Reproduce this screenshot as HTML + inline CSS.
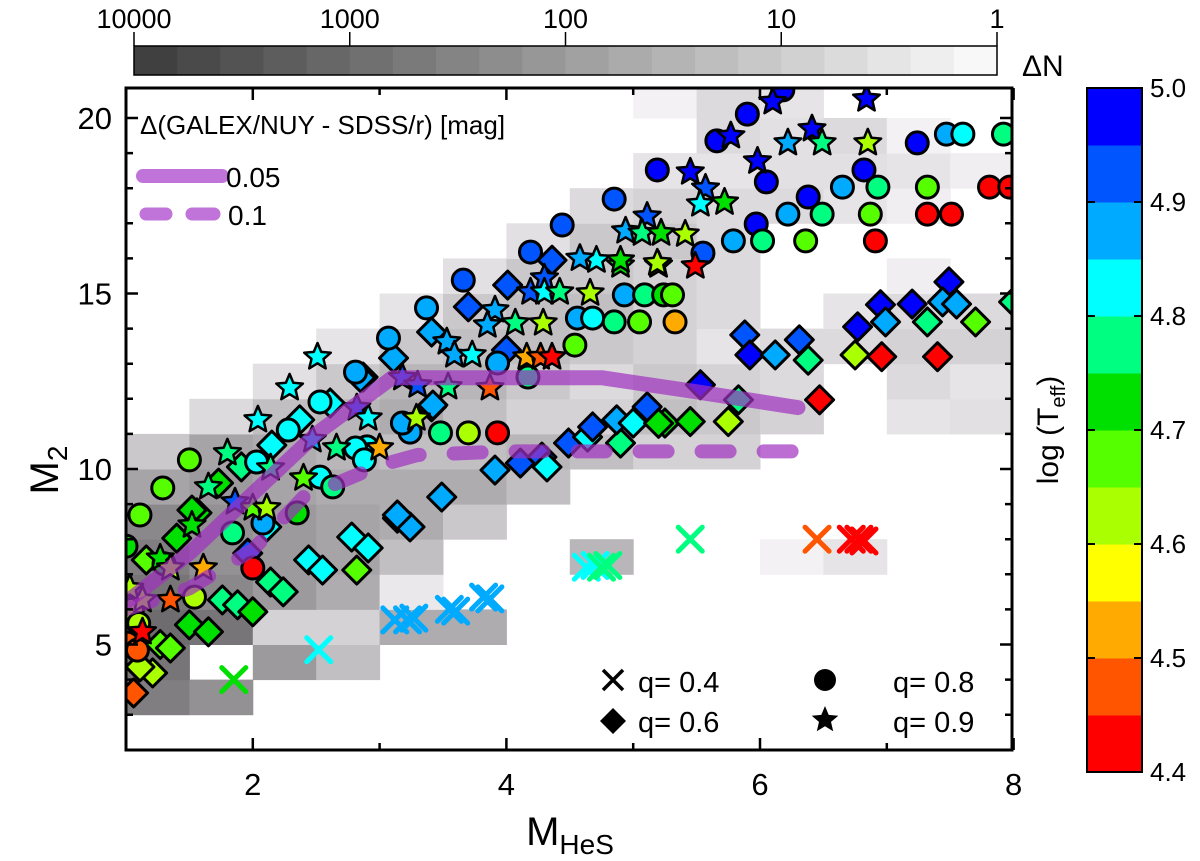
<!DOCTYPE html>
<html><head><meta charset="utf-8"><style>
body{margin:0;background:#fff;}
svg{display:block;font-family:"Liberation Sans",Arial,sans-serif;}
</style></head><body>
<svg id="c" width="1200" height="861" viewBox="0 0 1200 861" xmlns="http://www.w3.org/2000/svg">
<defs><clipPath id="pc"><rect x="126" y="88" width="886" height="662"/></clipPath></defs>
<g id="heat" clip-path="url(#pc)"></g>
<g id="marks" clip-path="url(#pc)"></g>
<g id="lines" clip-path="url(#pc)"></g>
<g id="axes"></g>
<g id="topbar"></g>
<g id="rightbar"></g>
<g id="legend"></g>
</svg>
<script>
// ---- data ----
// heatmap cells: [x0, M2 row start, count]
const heatCells=[[1,3,400],[1.5,3,160],[1,4,630],[2,4,100],[2.5,4,16],[1,5,1000],[1.5,5,630],[2,5,6],[2.5,5,6],[3,5,40],[3.5,5,40],
[1,6,630],[1.5,6,250],[2,6,100],[2.5,6,40],[3,6,2],[1,7,400],[1.5,7,160],[2,7,100],[2.5,7,60],[3,7,16],[4.5,7,25],[6,7,1.3],[6.5,7,2.5],
[1,8,250],[1.5,8,160],[2,8,100],[2.5,8,60],[3,8,40],[3.5,8,10],[1,9,60],[1.5,9,100],[2,9,60],[2.5,9,40],[3,9,40],[3.5,9,40],[4,9,16],
[1,10,10],[1.5,10,60],[2,10,40],[2.5,10,25],[3,10,16],[3.5,10,16],[4,10,25],[4.5,10,16],[5,10,6],[5.5,10,6],
[1.5,11,4],[2,11,16],[2.5,11,25],[3,11,40],[3.5,11,16],[4,11,6],[4.5,11,6],[5,11,16],[5.5,11,10],[6,11,6],[7,11,2.5],[7.5,11,3],
[2,12,3],[2.5,12,10],[3,12,25],[3.5,12,25],[4,12,10],[4.5,12,4],[5,12,10],[5.5,12,6],[6,12,4],[7,12,4],[7.5,12,2.5],
[2.5,13,2.5],[3,13,10],[3.5,13,16],[4,13,16],[4.5,13,10],[5,13,6],[5.5,13,2.5],[6,13,4],[6.5,13,4],[7,13,6],[7.5,13,6],
[3,14,2.5],[3.5,14,10],[4,14,16],[4.5,14,16],[5,14,6],[5.5,14,4],[6.5,14,2.5],[7,14,4],[7.5,14,4],
[3.5,15,3],[4,15,10],[4.5,15,10],[5,15,6],[5.5,15,4],[7,15,1.5],[4,16,3],[4.5,16,10],[5,16,10],[5.5,16,4],
[4.5,17,4],[5,17,6],[5.5,17,4],[6,17,4],[6.5,17,2.5],[7,17,1.5],[5,18,2.5],[5.5,18,2.5],[6,18,3],[6.5,18,3],[7,18,2.5],[7.5,18,1.5],
[5.5,19,4],[6,19,3],[6.5,19,4],[7,19,1.3],[5,20,1.3],[5.5,20,4],[6,20,2.5]];
// q=0.8 circles: [M_HeS, M2, logTeff]
const circles=[[5.90,20.11,4.97],[6.18,20.8,4.97],[5.66,19.35,4.97],[5.19,18.52,4.97],[4.85,17.69,4.92],[6.05,18.18,4.97],[6.82,18.52,4.97],
[7.24,19.29,4.97],[7.47,19.54,4.87],[7.60,19.54,4.82],[7.92,19.54,4.78],[6.65,18.03,4.87],[6.93,18.03,4.78],[7.32,18.03,4.67],[7.81,18.03,4.42],[7.97,18.03,4.42],
[6.38,17.75,4.97],[6.22,17.26,4.87],[6.49,17.26,4.78],[6.87,17.26,4.67],[7.32,17.26,4.42],[7.51,17.26,4.42],[5.97,16.98,4.97],[5.79,16.50,4.87],[6.02,16.50,4.78],
[6.36,16.50,4.67],[6.91,16.50,4.42],[5.55,16.15,4.92],[4.93,14.96,4.87],[5.09,14.96,4.78],[5.24,14.96,4.72],[5.31,14.96,4.67],[4.85,14.19,4.78],[5.05,14.19,4.67],[5.33,14.19,4.52],
[4.44,16.95,4.92],[4.19,16.18,4.92],[3.66,15.38,4.92],[3.37,14.59,4.87],[3.07,13.73,4.87],[3.93,13.02,4.87],[4.17,12.62,4.78],[4.54,13.53,4.67],[4.56,14.30,4.87],[4.68,14.30,4.82],
[3.48,11.03,4.78],[3.70,11.03,4.62],[3.93,11.03,4.42],[3.24,11.05,4.87],[2.90,10.63,4.82],[2.81,12.76,4.87],[2.53,11.91,4.82],[2.28,11.11,4.82],[2.03,10.2,4.82],[2.81,10.6,4.82],[2.88,10.26,4.82],
[3.18,11.31,4.87],[1.50,10.26,4.67],[1.29,9.46,4.67],[1.11,8.69,4.67],[2.53,9.77,4.82],[2.63,9.49,4.78],[2.35,8.75,4.72],[1.84,8.18,4.78],[2.0,7.18,4.42],[1.54,6.35,4.62],
[1.01,5.04,4.47],[1.09,4.84,4.47],[2.08,8.46,4.87],[1.05,6.0,4.62],[1.1,5.6,4.62],[1.3,7.3,4.72],[1.0,7.8,4.72]];
// q=0.9 stars
const stars=[[6.10,20.46,4.97],[6.84,20.54,4.97],[5.77,19.49,4.97],[6.22,19.29,4.87],[6.41,19.69,4.97],[6.49,19.29,4.78],[6.85,19.29,4.62],[5.98,18.77,4.97],[5.45,18.46,4.97],
[5.57,18.0,4.92],[5.53,17.55,4.82],[5.72,17.6,4.72],[5.11,17.2,4.92],[4.94,16.78,4.87],[5.07,16.72,4.78],[5.22,16.72,4.72],[5.41,16.69,4.62],[4.90,15.81,4.72],[5.20,15.81,4.62],[5.49,15.78,4.42],
[4.71,15.95,4.82],[4.58,16.0,4.87],[4.90,15.95,4.72],[5.19,15.87,4.62],[4.30,15.44,4.92],[4.19,15.04,4.92],[4.30,15.04,4.82],[4.42,15.04,4.78],[4.66,15.01,4.62],[3.91,14.53,4.87],
[3.85,14.1,4.87],[4.07,14.16,4.78],[4.29,14.16,4.62],[3.53,13.62,4.87],[3.59,13.25,4.87],[3.73,13.25,4.82],[4.16,13.19,4.52],[4.27,13.19,4.47],[4.36,13.19,4.42],[3.18,12.6,4.92],
[3.30,12.39,4.92],[3.54,12.34,4.78],[3.87,12.31,4.47],[3.29,11.45,4.62],[3.0,10.6,4.52],[2.51,13.19,4.82],[2.29,12.31,4.82],[2.04,11.4,4.82],[1.80,10.46,4.78],[1.65,9.49,4.78],
[2.14,10.03,4.78],[2.47,10.83,4.87],[2.66,10.6,4.78],[2.82,11.74,4.92],[2.91,11.45,4.82],[2.40,9.74,4.67],[2.0,8.89,4.67],[2.11,8.89,4.62],[1.86,9.06,4.92],[1.52,8.4,4.72],
[1.27,7.46,4.72],[1.61,7.18,4.52],[1.35,7.18,4.62],[1.13,6.27,4.62],[1.35,6.27,4.47],[1.13,5.36,4.42],[1.03,6.6,4.62]];
// q=0.6 diamonds
const diamonds=[[1.06,3.62,4.47],[1.21,4.19,4.62],[1.11,4.36,4.62],[1.27,5.0,4.67],[1.35,4.9,4.67],[1.50,5.56,4.72],[1.65,5.36,4.72],[1.76,6.27,4.78],[1.88,6.13,4.78],[2.0,5.93,4.72],
[2.14,6.78,4.78],[2.24,6.5,4.78],[2.44,7.41,4.82],[2.55,7.12,4.82],[2.78,8.06,4.82],[2.91,7.75,4.82],[2.82,7.12,4.67],[3.14,8.6,4.87],[3.24,8.35,4.87],[2.11,8.35,4.82],
[1.96,7.6,4.92],[1.40,8.03,4.72],[1.16,7.41,4.67],[1.56,8.75,4.72],[3.91,9.97,4.87],[4.11,10.17,4.92],[4.28,10.34,4.92],[4.32,10.06,4.82],[4.49,10.74,4.92],[4.64,10.91,4.82],
[4.68,11.2,4.92],[4.90,10.74,4.78],[4.87,11.4,4.87],[5.0,11.31,4.82],[5.11,11.77,4.92],[5.25,11.31,4.72],[3.41,11.77,4.87],[3.70,14.62,4.92],[3.41,13.9,4.87],[4.01,15.24,4.92],
[4.36,15.95,4.92],[4.0,13.39,4.92],[3.11,13.16,4.87],[2.87,12.62,4.87],[2.85,12.6,4.87],[2.61,11.88,4.82],[2.37,11.4,4.82],[2.15,10.68,4.82],[1.91,10.06,4.78],[1.73,9.6,4.72],
[1.52,8.83,4.72],[3.42,11.82,4.87],[3.14,8.69,4.87],[3.49,9.2,4.87],[5.88,13.82,4.92],[5.92,13.25,4.97],[6.12,13.25,4.87],[6.31,13.68,4.92],[6.38,13.1,4.78],[6.47,11.97,4.42],
[6.95,14.68,4.97],[7.49,15.33,4.97],[7.20,14.7,4.97],[7.44,14.76,4.87],[7.55,14.7,4.87],[7.32,14.19,4.78],[7.70,14.19,4.67],[6.77,14.05,4.97],[6.99,14.19,4.87],[8.0,14.76,4.78],
[6.75,13.25,4.62],[6.96,13.2,4.42],[7.40,13.2,4.42],[5.45,11.35,4.72],[5.75,11.35,4.62],[5.83,11.97,4.78],[5.53,12.4,4.97],[5.2,11.3,4.72]];
// q=0.4 crosses
const crosses=[[1.85,4.0,4.72],[2.52,4.85,4.82],[3.12,5.7,4.87],[3.22,5.7,4.87],[3.27,5.75,4.87],[3.55,6.0,4.87],[3.6,5.95,4.87],[3.82,6.35,4.87],[3.87,6.3,4.87],
[4.63,7.2,4.82],[4.7,7.25,4.82],[4.75,7.2,4.78],[4.8,7.25,4.78],[5.45,8.0,4.78],[6.45,8.0,4.47],[6.72,8.0,4.42],[6.78,8.0,4.42],[6.82,7.95,4.42]];
const line005X=[1.0,1.5,2.0,2.5,3.1,3.4,4.0,4.75,5.5,6.3];
const line005Y=[6.2,7.6,9.3,11.0,12.6,12.6,12.6,12.6,12.2,11.75];
const line01X=[1.0,1.5,2.0,2.4,3.0,3.3,4.0,6.3];
const line01Y=[6.0,6.6,7.7,9.2,10.1,10.4,10.5,10.5];
const xTicks=[2,4,6,8];
const yTicks=[5,10,15,20];
const countTicks=["10000","1000","100","10","1"];
const teffTicks=["5.0","4.9","4.8","4.7","4.6","4.5","4.4"];
// ---- scales ----
const X=v=>126+(v-1)*126.8, Y=v=>118+(20-v)*35.1;
const NS="http://www.w3.org/2000/svg";
function mk(p,t,a){const e=document.createElementNS(NS,t);for(const k in a)e.setAttribute(k,a[k]);p.appendChild(e);return e;}
const jet=["#ff0000","#ff5500","#ffaa00","#ffff00","#aaff00","#55ff00","#00e000","#00ff80","#00ffff","#00aaff","#0055ff","#0000ff"];
const col=t=>jet[Math.max(0,Math.min(11,Math.floor((t-4.4)/0.05)))];
const gray=c=>{const l=Math.log10(c)/4;const v=Math.round(248-(248-64)*l);return `rgb(${v},${v-2},${v})`;};
const heat=document.getElementById('heat');
heatCells.forEach(c=>{const r=mk(heat,'rect',{x:X(c[0]),y:Y(c[1]+1),width:X(c[0]+0.5)-X(c[0])+0.5,height:Y(c[1])-Y(c[1]+1)+0.5,fill:gray(c[2])});

});
const marks=document.getElementById('marks');
function starPts(cx,cy,R){let s=[];for(let i=0;i<10;i++){const r=i%2?R*0.45:R;const a=-Math.PI/2+i*Math.PI/5;s.push((cx+r*Math.cos(a)).toFixed(1)+","+(cy+r*Math.sin(a)).toFixed(1));}return s.join(" ");}
diamonds.forEach(d=>{const x=X(d[0]),y=Y(d[1]);const e=mk(marks,'polygon',{points:`${x},${y-14} ${x+14},${y} ${x},${y+14} ${x-14},${y}`,fill:col(d[2]),stroke:'#000','stroke-width':3,'stroke-linejoin':'round'});

});
circles.forEach(d=>{const e=mk(marks,'circle',{cx:X(d[0]),cy:Y(d[1]),r:11,fill:col(d[2]),stroke:'#000','stroke-width':3});

});
stars.forEach(d=>{const e=mk(marks,'polygon',{points:starPts(X(d[0]),Y(d[1]),14),fill:col(d[2]),stroke:'#000','stroke-width':2.5,'stroke-linejoin':'round'});

});
crosses.forEach(d=>{const x=X(d[0]),y=Y(d[1]);const e=mk(marks,'path',{d:`M${x-12},${y-12}L${x+12},${y+12}M${x+12},${y-12}L${x-12},${y+12}`,stroke:col(d[2]),'stroke-width':5,'stroke-linecap':'round',fill:'none'});

});
const lines=document.getElementById('lines');
const pth=(xs,ys)=>xs.map((v,i)=>(i?'L':'M')+X(v).toFixed(1)+','+Y(ys[i]).toFixed(1)).join('');
const l1=mk(lines,'path',{d:pth(line005X,line005Y),stroke:'#a030c0','stroke-opacity':0.7,'stroke-width':15,fill:'none','stroke-linecap':'round','stroke-linejoin':'round'});


const l2=mk(lines,'path',{d:pth(line01X,line01Y),stroke:'#a030c0','stroke-opacity':0.7,'stroke-width':14,fill:'none','stroke-linecap':'round','stroke-dasharray':'28 34'});


// axes
const ax=document.getElementById('axes');
mk(ax,'rect',{x:126,y:88,width:886,height:662,fill:'none',stroke:'#000','stroke-width':3});
for(let v=1;v<=8;v++){const maj=v%2==0,L=maj?12:7;mk(ax,'path',{d:`M${X(v)},750v${-L}M${X(v)},88v${L}`,stroke:'#000','stroke-width':2.5});}
for(let v=3;v<=20;v++){const maj=v%5==0,L=maj?12:7;mk(ax,'path',{d:`M126,${Y(v)}h${L}M1012,${Y(v)}h${-L}`,stroke:'#000','stroke-width':2.5});}
xTicks.forEach(v=>{const t=mk(ax,'text',{x:X(v),y:795,'font-size':31,'text-anchor':'middle'});t.textContent=v;

});
yTicks.forEach(v=>{const t=mk(ax,'text',{x:112,y:Y(v)+11,'font-size':31,'text-anchor':'end'});t.textContent=v;

});
let t=mk(ax,'text',{x:570,y:845,'font-size':40,'text-anchor':'middle'});t.innerHTML='M<tspan font-size="28" dy="9">HeS</tspan>';


t=mk(ax,'text',{x:0,y:0,'font-size':40,'text-anchor':'middle',transform:'translate(58,470) rotate(-90)'});t.innerHTML='M<tspan font-size="28" dy="9">2</tspan>';


// top colorbar
const tb=document.getElementById('topbar');
for(let i=0;i<20;i++){const v=Math.round(64+(248-64)*i/19);mk(tb,'rect',{x:134+i*43.15,y:46,width:43.6,height:29,fill:`rgb(${v},${v},${v})`});}
mk(tb,'rect',{x:134,y:46,width:863,height:29,fill:'none',stroke:'#000','stroke-width':1.5});
countTicks.forEach((s,i)=>{const x=134+i*215.75;mk(tb,'path',{d:`M${x},46v-14`,stroke:'#000','stroke-width':1.5});
const e=mk(tb,'text',{x:x,y:28,'font-size':27,'text-anchor':'middle'});e.textContent=s;

});
t=mk(tb,'text',{x:1022,y:76,'font-size':30});t.textContent='ΔN';


// right colorbar
const rb=document.getElementById('rightbar');
for(let i=0;i<12;i++){mk(rb,'rect',{x:1087,y:772-(i+1)*57,width:55,height:57.5,fill:jet[i]});}
mk(rb,'rect',{x:1087,y:88,width:55,height:684,fill:'none',stroke:'#000','stroke-width':2});
teffTicks.forEach((s,i)=>{const y=88+i*114;mk(rb,'path',{d:`M1142,${y}h-8M1087,${y}h8`,stroke:'#000','stroke-width':2});
const e=mk(rb,'text',{x:1150,y:y+9,'font-size':26});e.textContent=s;

});
t=mk(rb,'text',{x:0,y:0,'font-size':30,'text-anchor':'middle',transform:'translate(1058,430) rotate(-90)'});t.innerHTML='log (T<tspan font-size="20" dy="7">eff</tspan><tspan dy="-7">)</tspan>';


// legends
const lg=document.getElementById('legend');
t=mk(lg,'text',{x:140,y:134,'font-size':26});t.textContent='Δ(GALEX/NUY - SDSS/r) [mag]';


mk(lg,'path',{d:'M143,176H222',stroke:'#b050d0','stroke-opacity':0.8,'stroke-width':14,'stroke-linecap':'round'});
mk(lg,'path',{d:'M146,214H166M192,214H214',stroke:'#b050d0','stroke-opacity':0.8,'stroke-width':13,'stroke-linecap':'round'});
t=mk(lg,'text',{x:226,y:187,'font-size':28});t.textContent='0.05';


t=mk(lg,'text',{x:228,y:225,'font-size':28});t.textContent='0.1';


mk(lg,'path',{d:'M603,670l20,20M623,670l-20,20',stroke:'#000','stroke-width':3.5});
mk(lg,'circle',{cx:825,cy:680,r:11,fill:'#000'});
mk(lg,'polygon',{points:'613,708 626,721 613,734 600,721',fill:'#000'});
mk(lg,'polygon',{points:starPts(825,720,14),fill:'#000'});
[[638,692,'q= 0.4'],[893,692,'q= 0.8'],[638,732,'q= 0.6'],[893,732,'q= 0.9']].forEach(a=>{const e=mk(lg,'text',{x:a[0],y:a[1],'font-size':29});e.textContent=a[2];

});
</script>
</body></html>
